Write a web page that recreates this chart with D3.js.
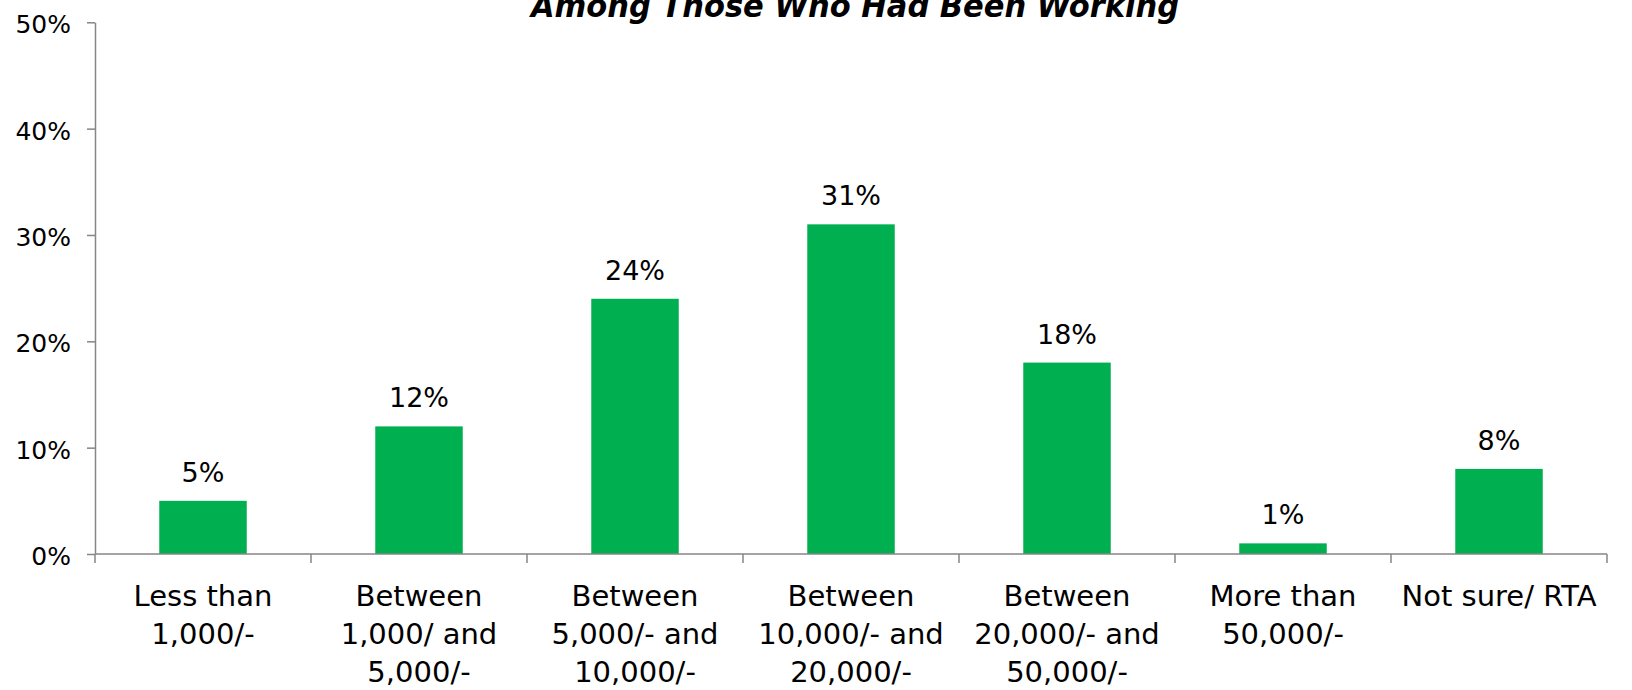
<!DOCTYPE html>
<html>
<head>
<meta charset="utf-8">
<script src="https://cdn.jsdelivr.net/npm/d3@7"></script>
<style>
  html, body { margin: 0; padding: 0; background: #ffffff; }
  svg { display: block; }
  text { font-family: "DejaVu Sans", "Noto Sans", sans-serif; fill: #000; }
</style>
</head>
<body>
<svg id="chart" width="1632" height="690"></svg>
<script>
// Monthly income brackets and share of respondents (%)
const categories = [
  ["Less than", "1,000/-"],
  ["Between", "1,000/ and", "5,000/-"],
  ["Between", "5,000/- and", "10,000/-"],
  ["Between", "10,000/- and", "20,000/-"],
  ["Between", "20,000/- and", "50,000/-"],
  ["More than", "50,000/-"],
  ["Not sure/ RTA"]
];
const values = [5, 12, 24, 31, 18, 1, 8];
const yTicks = [0, 10, 20, 30, 40, 50];
const title = "Among Those Who Had Been Working";

const svg = d3.select("#chart");
const plot = { left: 95, right: 1607, top: 22.3, bottom: 554 };

const keys = categories.map((c, i) => i);
const x = d3.scaleBand()
  .domain(keys)
  .range([plot.left, plot.right])
  .paddingInner(0.595)
  .paddingOuter(0.2975);

const y = d3.scaleLinear()
  .domain([0, 50])
  .range([plot.bottom, plot.top]);

const axisColor = "#868686";

// Title (partly above the top edge)
svg.append("text")
  .attr("x", 855)
  .attr("y", 17)
  .attr("text-anchor", "middle")
  .attr("textLength", 648)
  .attr("lengthAdjust", "spacingAndGlyphs")
  .style("font-size", "32px")
  .style("font-weight", "bold")
  .style("font-style", "italic")
  .text(title);

// Bars
svg.append("g").selectAll("rect")
  .data(values)
  .join("rect")
  .attr("x", (d, i) => x(i))
  .attr("width", x.bandwidth())
  .attr("y", d => y(d))
  .attr("height", d => y(0) - y(d))
  .attr("fill", "#00B050");

// Value labels
svg.append("g").selectAll("text")
  .data(values)
  .join("text")
  .attr("x", (d, i) => x(i) + x.bandwidth() / 2)
  .attr("y", d => y(d) - 19)
  .attr("text-anchor", "middle")
  .style("font-size", "27px")
  .text(d => d + "%");

// Y axis
const yAxis = d3.axisLeft(y)
  .tickValues(yTicks)
  .tickFormat(d => d + "%")
  .tickSize(8)
  .tickPadding(16)
  .tickSizeOuter(0);
const gy = svg.append("g")
  .attr("transform", `translate(${plot.left},0)`)
  .call(yAxis);
gy.select(".domain").attr("stroke", axisColor).attr("stroke-width", 1.5);
gy.selectAll(".tick line").attr("stroke", axisColor).attr("stroke-width", 1.5);
gy.selectAll(".tick text")
  .attr("dy", "0.42em")
  .style("font-size", "25px")
  .style("font-family", "'DejaVu Sans', sans-serif")
  .attr("fill", "#000");

// X axis line with tick marks at category boundaries
const bounds = keys.map(i => x(i) - x.step() * x.paddingInner() / 2).concat([plot.right]);
const gx = svg.append("g");
gx.append("line")
  .attr("x1", plot.left).attr("x2", plot.right)
  .attr("y1", y(0)).attr("y2", y(0))
  .attr("stroke", axisColor).attr("stroke-width", 1.5);
gx.selectAll("line.tk")
  .data(bounds)
  .join("line")
  .attr("class", "tk")
  .attr("x1", d => d).attr("x2", d => d)
  .attr("y1", y(0)).attr("y2", y(0) + 9)
  .attr("stroke", axisColor).attr("stroke-width", 1.5);

// Category labels (multi-line)
const lab = svg.append("g").selectAll("text")
  .data(categories)
  .join("text")
  .attr("x", (d, i) => x(i) + x.bandwidth() / 2)
  .attr("y", 606)
  .attr("text-anchor", "middle")
  .style("font-size", "29px");
lab.selectAll("tspan")
  .data(d => d)
  .join("tspan")
  .attr("x", function () { return d3.select(this.parentNode).attr("x"); })
  .attr("dy", (d, j) => j === 0 ? 0 : 38)
  .text(d => d);
</script>
</body>
</html>
